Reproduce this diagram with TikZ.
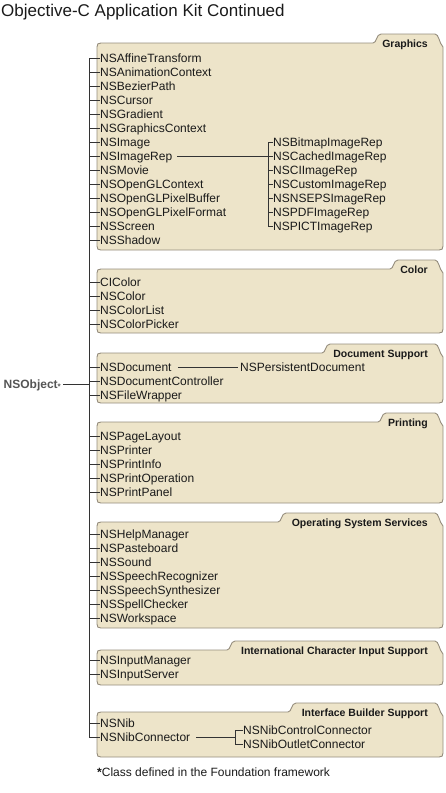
\documentclass[tikz,border=0pt]{standalone}
\usepackage{fontspec}
\setmainfont{Liberation Sans}
\definecolor{boxfill}{HTML}{EDE4C9}
\definecolor{boxline}{HTML}{958D7D}
\definecolor{txt}{HTML}{1A1A1A}
\definecolor{conncol}{HTML}{333333}
\definecolor{objcol}{HTML}{555555}
\tikzset{
  boxst/.style={draw=boxline, fill=boxfill, line width=0.9pt},
  boxtitle/.style={anchor=base east, inner sep=0pt, font=\fontsize{10.5}{12}\selectfont\bfseries, text=txt},
  cls/.style={anchor=west, inner sep=0pt, text height=8.6pt, text depth=0pt, font=\fontsize{12}{14}\selectfont, text=txt},
  conn/.style={draw=conncol, line width=0.9pt},
}
\newcommand\folderbox[5]{%
  \draw[boxst] (97,#2+4) .. controls (97,#2+1) and (98,#2) .. (101,#2)
    -- (#4,#2) .. controls (#4+4,#2) and (#4+3,#2-9) .. (#4+8,#2-9)
    -- (435,#2-9) .. controls (439,#2-9) and (439,#2) .. (443,#2+4)
    -- (443,#3-4) .. controls (443,#3-1) and (442,#3) .. (439,#3)
    -- (101,#3) .. controls (98,#3) and (97,#3-1) .. (97,#3-4) -- cycle;
  \node[boxtitle] (#1) at (428,#2+4) {#5};}
\begin{document}
\begin{tikzpicture}[x=1pt,y=-1pt]
\useasboundingbox (0,0) rectangle (445,793);
% title
\node[anchor=base west, inner sep=0pt, font=\fontsize{17}{20}\selectfont, text=txt] (title) at (1,16) {Objective-C Application Kit Continued};
% boxes
\folderbox{tgraph}{43}{250}{373}{Graphics}
\folderbox{tcolor}{269}{333}{390}{Color}
\folderbox{tdoc}{353}{403}{322}{Document Support}
\folderbox{tprint}{422}{503}{378}{Printing}
\folderbox{toss}{522}{628}{278}{Operating System Services}
\folderbox{tics}{650}{685}{227}{International Character Input Support}
\folderbox{tibs}{712}{757}{288}{Interface Builder Support}
% class nodes
\foreach \n/\t/\y in {
  g1/NSAffineTransform/58, g2/NSAnimationContext/72, g3/NSBezierPath/86,
  g4/NSCursor/100, g5/NSGradient/114, g6/NSGraphicsContext/128,
  g7/NSImage/142, g8/NSImageRep/156, g9/NSMovie/170, g10/NSOpenGLContext/184,
  g11/NSOpenGLPixelBuffer/198, g12/NSOpenGLPixelFormat/212, g13/NSScreen/226,
  g14/NSShadow/240,
  c1/CIColor/282, c2/NSColor/296, c3/NSColorList/310, c4/NSColorPicker/324,
  d1/NSDocument/367, d2/NSDocumentController/381, d3/NSFileWrapper/395,
  p1/NSPageLayout/436, p2/NSPrinter/450, p3/NSPrintInfo/464,
  p4/NSPrintOperation/478, p5/NSPrintPanel/492,
  o1/NSHelpManager/534, o2/NSPasteboard/548, o3/NSSound/562,
  o4/NSSpeechRecognizer/576, o5/NSSpeechSynthesizer/590,
  o6/NSSpellChecker/604, o7/NSWorkspace/618,
  i1/NSInputManager/660, i2/NSInputServer/674,
  n1/NSNib/723, n2/NSNibConnector/737}
  {\node[cls] (\n) at (100,\y) {\t};}
% image rep subclasses
\foreach \n/\t/\y in {
  r1/NSBitmapImageRep/142, r2/NSCachedImageRep/156, r3/NSCIImageRep/170,
  r4/NSCustomImageRep/184, r5/NSNSEPSImageRep/198, r6/NSPDFImageRep/212,
  r7/NSPICTImageRep/226}
  {\node[cls] (\n) at (273,\y) {\t};}
\node[cls] (pdoc) at (240,367) {NSPersistentDocument};
\node[cls] (nc1) at (243,730) {NSNibControlConnector};
\node[cls] (nc2) at (243,744) {NSNibOutletConnector};
% NSObject
\node[anchor=east, inner sep=0pt, text height=8.6pt, text depth=0pt, font=\fontsize{12}{14}\selectfont\bfseries, text=objcol] (obj) at (61,384) {NSObject\raisebox{-1.5pt}{\fontsize{8}{8}\selectfont *}};
% trunk
\coordinate (trunk) at (89,58);
\draw[conn] (g1.west) -- (g1.west -| trunk) -- (n2.west -| trunk) -- (n2.west);
\foreach \n in {g2,g3,g4,g5,g6,g7,g8,g9,g10,g11,g12,g13,g14,c1,c2,c3,c4,d1,d2,d3,p1,p2,p3,p4,p5,o1,o2,o3,o4,o5,o6,o7,i1,i2,n1}
  {\draw[conn] (\n.west) -- (\n.west -| trunk);}
\draw[conn] ([xshift=2pt]obj.east) -- (obj.east -| trunk);
% NSImageRep subclasses
\coordinate (rv) at (268,142);
\draw[conn] ([xshift=5pt]g8.east) -- (g8.east -| rv);
\draw[conn] (r1.west) -- (r1.west -| rv) -- (r7.west -| rv) -- (r7.west);
\foreach \n in {r2,r3,r4,r5,r6}
  {\draw[conn] (\n.west) -- (\n.west -| rv);}
% NSDocument
\draw[conn] ([xshift=6pt]d1.east) -- ([xshift=-2pt]pdoc.west);
% NSNibConnector
\coordinate (nv) at (235,730);
\draw[conn] ([xshift=6pt]n2.east) -- (n2.east -| nv);
\draw[conn] (nc1.west) -- (nc1.west -| nv) -- (nc2.west -| nv) -- (nc2.west);
% footnote
\node[anchor=west, inner sep=0pt, text height=8.6pt, text depth=0pt, font=\fontsize{12}{14}\selectfont, text=txt] (foot) at (97,772) {\textbf{*}Class defined in the Foundation framework};
\end{tikzpicture}
\end{document}
